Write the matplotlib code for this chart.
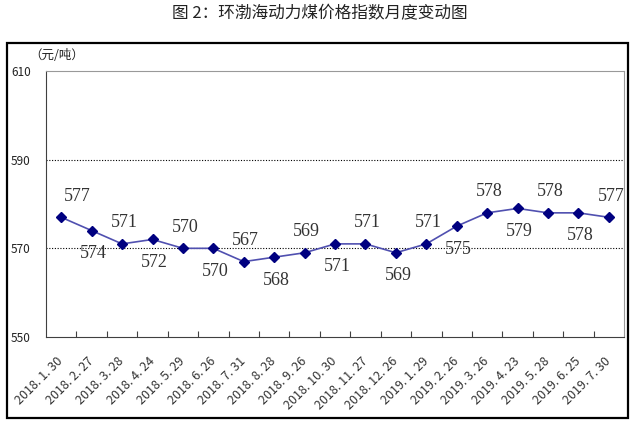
import matplotlib.pyplot as plt
import matplotlib.patches as patches

plt.rcParams['font.family'] = ['Noto Sans CJK SC', 'DejaVu Sans']

# 데이터
dates = ["2018. 1. 30", "2018. 2. 27", "2018. 3. 28", "2018. 4. 24", "2018. 5. 29",
         "2018. 6. 26", "2018. 7. 31", "2018. 8. 28", "2018. 9. 26", "2018. 10. 30",
         "2018. 11. 27", "2018. 12. 26", "2019. 1. 29", "2019. 2. 26", "2019. 3. 26",
         "2019. 4. 23", "2019. 5. 28", "2019. 6. 25", "2019. 7. 30"]
price = [577, 574, 571, 572, 570, 570, 567, 568, 569, 571,
         571, 569, 571, 575, 578, 579, 578, 578, 577]
yticks = [550, 570, 590, 610]
title = "图 2：环渤海动力煤价格指数月度变动图"
unit = "（元/吨）"

fig = plt.figure(figsize=(6.34, 4.24), dpi=100)
ax = fig.add_axes([0.0726, 0.2052, 0.9117, 0.6274])

x = list(range(len(price)))
ax.plot(x, price, color='#5050B0', lw=1.2, marker='D', ms=5.5,
        markerfacecolor='#000080', markeredgecolor='#000080', zorder=3)

# 데이터 라벨 (짝수 위, 홀수 아래)
for i, v in enumerate(price):
    dy = 21 if i % 2 == 0 else -23
    dx = 16 if i == 0 else 2
    ax.annotate(str(v), (i, v), textcoords='offset pixels', xytext=(dx, dy),
                ha='center', va='center', fontsize=13,
                family='Liberation Serif', color='#333333')

ax.set_xlim(-0.5, len(price) - 0.5)
ax.set_ylim(550, 610)
ax.set_yticks(yticks)
ax.tick_params(axis='y', length=0, pad=11, labelsize=8.5, labelcolor='#222222')

# 눈금은 카테고리 경계에
ax.set_xticks([i + 0.5 for i in range(len(price) - 1)])
ax.set_xticklabels([])
ax.tick_params(axis='x', which='major', direction='in', length=4, color='#404040')
ax.set_xticks(x, minor=True)
ax.set_xticklabels(dates, minor=True, rotation=45, ha='right', va='center',
                   rotation_mode='anchor', fontsize=9, color='#333333')
ax.tick_params(axis='x', which='minor', length=0, pad=16)

for yv in [570, 590]:
    ax.axhline(yv, color='black', lw=0.8, ls=(0, (1, 1.5)), zorder=1)

ax.spines['left'].set_color('#404040')
ax.spines['bottom'].set_color('#404040')
ax.spines['top'].set_color('#999999')
ax.spines['right'].set_color('#999999')

# 바깥 테두리
fig.patches.append(patches.Rectangle((0.011, 0.0142), 0.9795, 0.8844,
                                     transform=fig.transFigure, fill=False,
                                     edgecolor='black', lw=1.6))

fig.text(0.504, 0.967, title, ha='center', va='center', fontsize=12, color='#222222')
fig.text(0.046, 0.868, unit, ha='left', va='center', fontsize=9, color='#222222')

fig.savefig("out.png", dpi=100)
